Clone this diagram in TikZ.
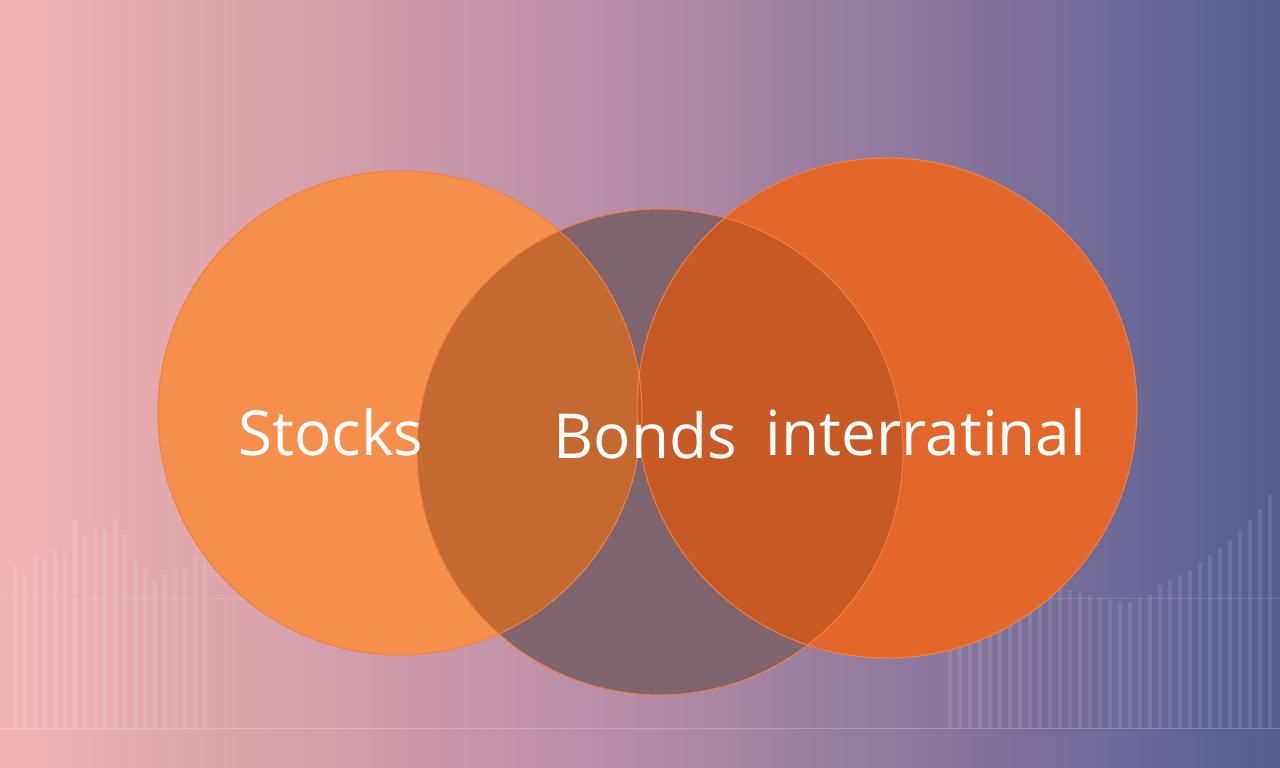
\documentclass[tikz,border=0pt]{standalone}
\usepackage{fontspec}
\setmainfont{Open Sans}
\definecolor{bgl}{HTML}{F2B3B1}
\definecolor{bgm}{HTML}{B58CA6}
\definecolor{bgr}{HTML}{565D92}
\definecolor{orl}{HTML}{F58F4B}
\definecolor{orr}{HTML}{E2662A}
\definecolor{midc}{HTML}{80656F}
\definecolor{ovl}{HTML}{C4692F}
\definecolor{ovr}{HTML}{C85A25}
\definecolor{edge}{HTML}{F08040}
\begin{document}
\begin{tikzpicture}[x=1pt,y=-1pt,
  lbl/.style={text=white,font=\fontsize{62}{70}\selectfont,inner sep=0pt},
  bar/.style={draw=white,opacity=0.1,line width=4pt}]
\useasboundingbox (0,0) rectangle (1280,768);
\shade[left color=bgl,right color=bgr,middle color=bgm] (0,0) rectangle (1280,768);
% faint bar chart
\foreach \x/\h in {15/565,25/575,35/555,45/560,55/550,65/555,75/520,85/535,95/525,105/530,115/518,125/535,135/560,145/570,155/580,165/575,175/568,185/570,195/555,205/560,
  950/590,960/595,970/600,980/590,990/585,1000/590,1010/595,1020/585,1030/580,1040/578,1050/575,1060/585,1070/590,1080/592,1090/595,1100/598,1110/600,1120/602,1130/602,1140/598,1150/595,1160/585,1170/580,1180/575,1190/570,1200/562,1210/555,1220/548,1230/540,1240/530,1250/520,1260/510,1270/495}
  \draw[bar] (\x,\h) -- (\x,728);
\draw[white,opacity=0.12] (0,598) -- (1280,598);
\draw[white,opacity=0.2] (0,728) -- (1280,728);
% circles
\fill[orl] (400,413) circle (242);
\fill[orr] (887,408) circle (250);
\fill[midc] (660,452) circle (243);
\begin{scope}
  \clip (660,452) circle (243);
  \fill[ovl] (400,413) circle (242);
  \fill[ovr] (887,408) circle (250);
\end{scope}
\node[draw=edge,line width=1pt,circle,minimum size=484pt,inner sep=0pt] (s) at (400,413) {};
\node[draw=edge,line width=1pt,circle,minimum size=500pt,inner sep=0pt] (i) at (887,408) {};
\node[draw=edge,line width=1pt,circle,minimum size=486pt,inner sep=0pt] (b) at (660,452) {};
\node[lbl] (ts) at (331,432) {Stocks};
\node[lbl] (tb) at (645,435) {Bonds};
\node[lbl] (ti) at (926,432) {interratinal};
\end{tikzpicture}
\end{document}
